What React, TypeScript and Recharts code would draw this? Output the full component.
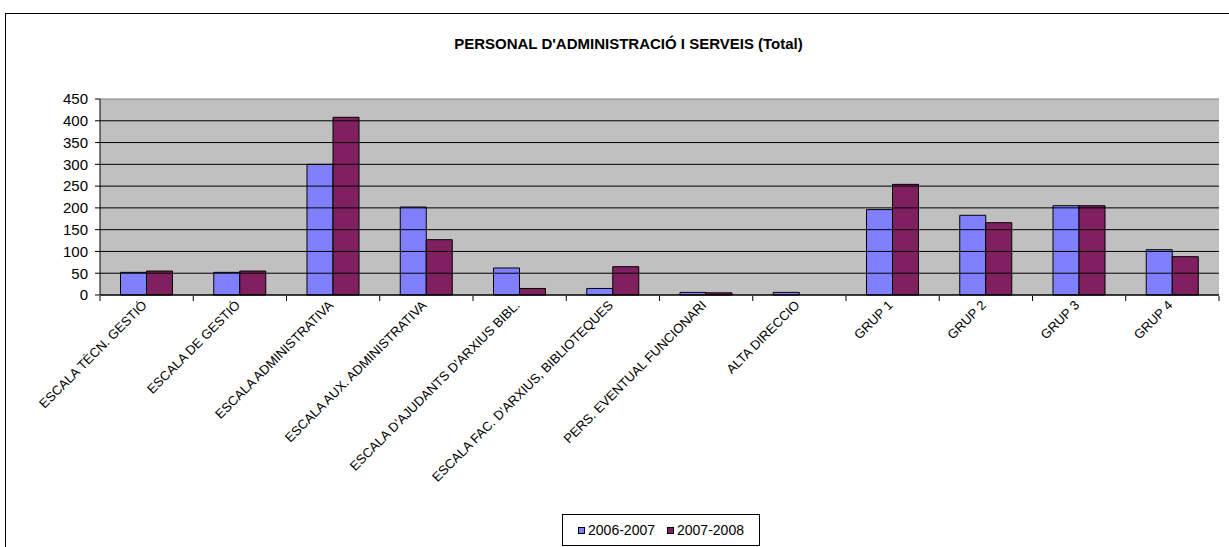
import React from 'react';
import {
  BarChart,
  Bar,
  XAxis,
  YAxis,
  CartesianGrid,
  ReferenceLine,
  Legend,
} from 'recharts';

const categories = [
  'ESCALA TÈCN. GESTIÓ',
  'ESCALA DE GESTIÓ',
  'ESCALA ADMINISTRATIVA',
  'ESCALA AUX. ADMINISTRATIVA',
  "ESCALA D'AJUDANTS D'ARXIUS BIBL.",
  "ESCALA FAC. D'ARXIUS, BIBLIOTEQUES",
  'PERS. EVENTUAL FUNCIONARI',
  'ALTA DIRECCIO',
  'GRUP 1',
  'GRUP 2',
  'GRUP 3',
  'GRUP 4',
];

const serie0607 = [52, 52, 300, 202, 62, 15, 6, 6, 196, 183, 205, 104];
const serie0708 = [55, 55, 408, 127, 15, 65, 5, 0, 254, 166, 205, 88];

const yTicks = [0, 50, 100, 150, 200, 250, 300, 350, 400, 450];
const gridTicks = [50, 100, 150, 200, 250, 300, 350, 400];
const edgeTicks = [0, 1, 2, 3, 4, 5, 6, 7, 8, 9, 10, 11, 12];

const series = [
  { key: 'v0607', name: '2006-2007', color: '#8080FF' },
  { key: 'v0708', name: '2007-2008', color: '#802060' },
];

const data = categories.map((cat, i) => ({
  cat,
  idx: i + 0.5,
  v0607: serie0607[i],
  v0708: serie0708[i],
}));

const FONT = 'Arial, "Liberation Sans", sans-serif';

// eslint-disable-next-line @typescript-eslint/no-explicit-any
const SlantTick = ({ x, y, payload }: any) => (
  <text
    x={x + 1}
    y={y + 3}
    transform={`rotate(-45, ${x + 1}, ${y + 3})`}
    textAnchor="end"
    fontSize={13}
    fontFamily={FONT}
    fill="#000"
  >
    {payload.value}
  </text>
);

const LegendBox = () => (
  <div
    style={{
      border: '1px solid #000',
      background: '#fff',
      height: 30,
      display: 'flex',
      alignItems: 'center',
      justifyContent: 'center',
      gap: 12,
      fontSize: 14,
      fontFamily: FONT,
      color: '#000',
    }}
  >
    {series.map((s) => (
      <span key={s.key} style={{ display: 'flex', alignItems: 'center', gap: 3 }}>
        <span
          style={{
            width: 5,
            height: 5,
            background: s.color,
            border: '1px solid #000',
            display: 'inline-block',
          }}
        />
        {s.name}
      </span>
    ))}
  </div>
);

export default function App() {
  return (
    <div
      style={{
        position: 'absolute',
        left: 0,
        top: 0,
        width: 1229,
        height: 547,
        overflow: 'hidden',
        background: '#fff',
        fontFamily: FONT,
      }}
    >
      <div
        style={{
          position: 'absolute',
          left: 5,
          top: 13,
          width: 1400,
          height: 700,
          borderTop: '1px solid #000',
          borderLeft: '1px solid #000',
        }}
      />
      <div
        style={{
          position: 'absolute',
          left: 14,
          top: 35,
          width: 1229,
          textAlign: 'center',
          fontSize: 15,
          fontWeight: 'bold',
          color: '#000',
        }}
      >
        PERSONAL D'ADMINISTRACIÓ I SERVEIS (Total)
      </div>
      <BarChart
        width={1229}
        height={547}
        data={data}
        margin={{ top: 99, right: 10, left: 40, bottom: 52 }}
        barGap={0}
        barCategoryGap="22%"
        style={{ position: 'absolute', left: 0, top: 0 }}
      >
        <CartesianGrid horizontal={false} vertical={false} fill="#C0C0C0" />
        <XAxis
          xAxisId="cat"
          dataKey="cat"
          interval={0}
          tickLine={false}
          axisLine={{ stroke: '#000', strokeWidth: 1.5 }}
          tick={<SlantTick />}
          height={1}
        />
        <XAxis
          xAxisId="edge"
          dataKey="idx"
          type="number"
          domain={[0, 12]}
          ticks={edgeTicks}
          tickFormatter={() => ''}
          tickSize={5}
          tickLine={{ stroke: '#000' }}
          axisLine={false}
          height={167}
          interval={0}
        />
        <YAxis
          domain={[0, 450]}
          ticks={yTicks}
          interval={0}
          width={60}
          tickSize={5}
          tickMargin={7}
          stroke="#000"
          tick={{ fill: '#000', fontSize: 15, fontFamily: FONT }}
        />
        <YAxis
          yAxisId="right"
          orientation="right"
          width={0}
          tick={false}
          tickLine={false}
          domain={[0, 450]}
          axisLine={{ stroke: '#808080' }}
        />
        {gridTicks.map((t) => (
          <ReferenceLine key={t} y={t} xAxisId="cat" stroke="#000" strokeWidth={1} />
        ))}
        <ReferenceLine y={450} xAxisId="cat" stroke="#808080" strokeWidth={1} />
        <Legend
          content={<LegendBox />}
          wrapperStyle={{ left: 562, top: 514, width: 198, bottom: 'auto' }}
        />
        {series.map((s) => (
          <Bar
            key={s.key}
            xAxisId="cat"
            dataKey={s.key}
            name={s.name}
            fill={s.color}
            stroke="#000"
            strokeWidth={1}
            isAnimationActive={false}
          />
        ))}
      </BarChart>
    </div>
  );
}
